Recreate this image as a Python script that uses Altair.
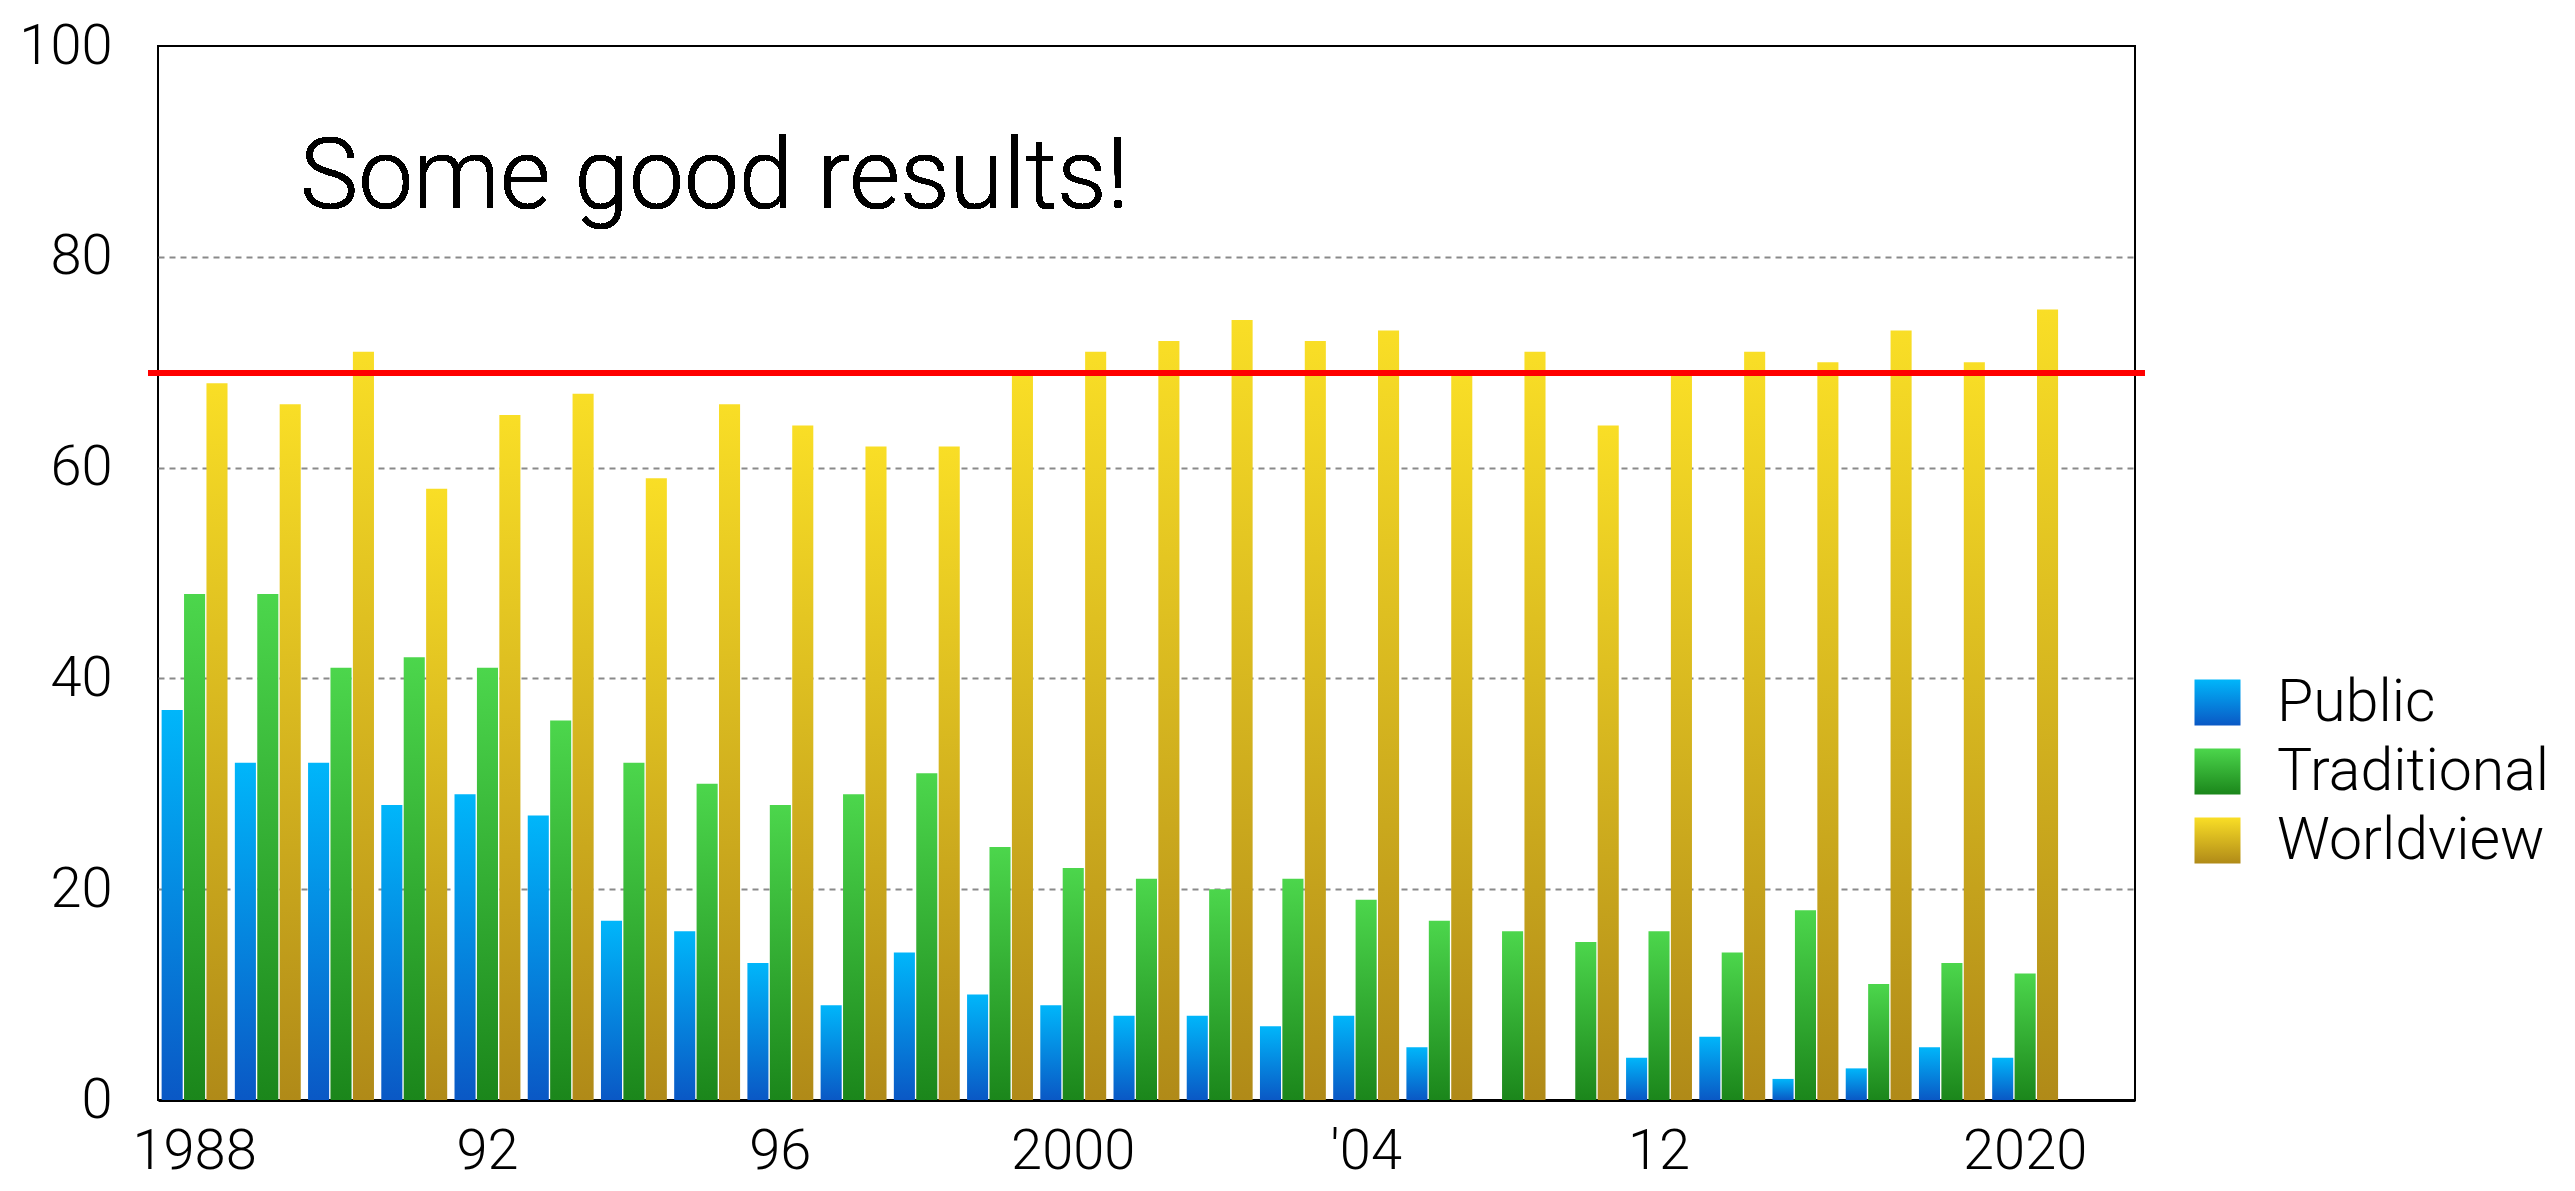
import json
import altair as alt
import pandas as pd

# ---------------- data ----------------
years = [str(y) for y in range(1988, 2005)] + ["2006", "2008", "2010", "2012", "2014", "2016", "2018", "2019", "2020"]
public = [37, 32, 32, 28, 29, 27, 17, 16, 13, 9, 14, 10, 9, 8, 8, 7, 8, 5, None, None, 4, 6, 2, 3, 5, 4]
traditional = [48, 48, 41, 42, 41, 36, 32, 30, 28, 29, 31, 24, 22, 21, 20, 21, 19, 17, 16, 15, 16, 14, 18, 11, 13, 12]
worldview = [68, 66, 71, 58, 65, 67, 59, 66, 64, 62, 62, 69, 71, 72, 74, 72, 73, 69, 71, 64, 69, 71, 70, 73, 70, 75]
series = ["Public", "Traditional", "Worldview"]
tick_labels = {"1988": "1988", "1992": "92", "1996": "96", "2000": "2000",
               "2004": "'04", "2012": "12", "2020": "2020"}
y_ticks = [0, 20, 40, 60, 80, 100]
threshold = 69
annotation = "Some good results!"
annotation_y = 84.6
annotation_year = "1990"

top_colors = ["#00b6fa", "#4cd64c", "#f9de26"]
bottom_colors = ["#0a58c5", "#1b861b", "#b08a18"]

# ---------------- build table ----------------
rows = []
for name, vals in zip(series, [public, traditional, worldview]):
    for yr, v in zip(years, vals):
        if v is not None:
            rows.append({"year": yr, "series": name, "value": v})
df = pd.DataFrame(rows)


def grad(top, bottom):
    return alt.ExprRef(
        expr=("{gradient: 'linear', x1: 0, y1: 0, x2: 0, y2: 1, stops: ["
              f"{{offset: 0, color: '{top}'}}, {{offset: 1, color: '{bottom}'}}]}}")
    )


FONT = "Roboto"
W, H = 1977, 1054

label_expr = " : ".join(
    f"datum.value === {json.dumps(k)} ? {json.dumps(v)}" for k, v in tick_labels.items()
) + " : ''"

x_scale = alt.Scale(domain=years, paddingInner=0.1, paddingOuter=0.55, align=0.045)
y_scale = alt.Scale(domain=[0, 100], nice=False)

bars = alt.Chart(df).mark_bar().encode(
    x=alt.X("year:N", scale=x_scale,
            axis=alt.Axis(labelExpr=label_expr, labelAngle=0, labelFontSize=56,
                          labelFont=FONT, labelFontWeight=300, labelColor="black",
                          labelBaseline="alphabetic", labelPadding=68,
                          ticks=False, tickSize=0,
                          domainColor="black", domainWidth=3, grid=False, title=None)),
    xOffset=alt.XOffset("series:N", scale=alt.Scale(domain=series, paddingInner=0.06, paddingOuter=0)),
    y=alt.Y("value:Q", scale=y_scale,
            axis=alt.Axis(values=y_ticks, labelFontSize=56, labelFont=FONT,
                          labelFontWeight=300, labelColor="black", labelPadding=46,
                          ticks=False, tickSize=0, domain=False, title=None,
                          grid=True, gridColor="#8a8a8a", gridWidth=2, gridDash=[6, 5],
                          gridOpacity={"condition": {"test": "datum.value == 0 || datum.value == 100", "value": 0}, "value": 1})),
    color=alt.Color("series:N",
                    scale=alt.Scale(domain=series,
                                    range=[grad(t, b) for t, b in zip(top_colors, bottom_colors)]),
                    legend=alt.Legend(orient="none", legendX=2030, legendY=627, title=None,
                                      labelFontSize=59, labelFont=FONT, labelFontWeight=300,
                                      labelColor="black", labelLimit=800,
                                      symbolType="square", symbolSize=2116,
                                      symbolStrokeWidth=0, symbolOpacity=1, labelOffset=30,
                                      rowPadding=9, padding=0)),
)

rule = alt.Chart(df).mark_rule(color="#ff0000", strokeWidth=5).encode(
    y=alt.YDatum(threshold, scale=y_scale),
    x=alt.value(-10),
    x2=alt.value(W + 10),
)

text = alt.Chart(df).mark_text(align="left", baseline="alphabetic", fontSize=98,
                               font=FONT, fontWeight=300, color="black", dx=-8).encode(
    x=alt.XDatum(annotation_year, type="nominal", bandPosition=0, scale=x_scale),
    y=alt.YDatum(annotation_y, scale=y_scale),
    text=alt.datum(annotation),
)

chart = alt.layer(bars, rule, text).properties(
    width=W, height=H,
    autosize=alt.AutoSizeParams(type="none"),
    padding={"left": 150, "top": 38, "right": 420, "bottom": 83},
).configure_view(stroke="black", strokeWidth=2)

chart.save("out.html", embed_options={"renderer": "svg", "actions": False})
